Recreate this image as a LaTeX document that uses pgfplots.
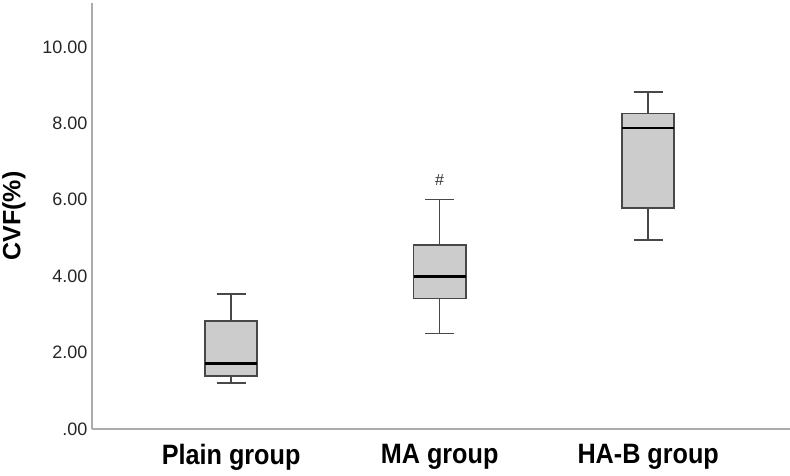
\documentclass[border=0pt]{standalone}
\usepackage{fontspec}
\setmainfont{Liberation Sans}
\usepackage{pgfplots}
\pgfplotsset{compat=1.18}
\usepgfplotslibrary{statistics}
\definecolor{axgray}{HTML}{ABABAB}
\definecolor{boxfill}{HTML}{CCCCCC}
\definecolor{boxline}{HTML}{484848}
\begin{document}
\begin{tikzpicture}[line width=1.6pt]
\useasboundingbox (0,0) rectangle (790pt,476pt);
\begin{axis}[
  at={(92pt,47pt)}, anchor=south west,
  scale only axis, width=698pt, height=426pt,
  xmin=0.333, xmax=3.68, ymin=0, ymax=11.15,
  axis x line=bottom, axis y line=left,
  axis line style={axgray, line width=1.8pt, -},
  xtick={1,2,3},
  xticklabels={\scalebox{0.9}[1]{Plain group}, \scalebox{0.9}[1]{MA group}, \scalebox{0.9}[1]{HA-B group}},
  ytick={0,2,4,6,8,10},
  yticklabels={.00,2.00,4.00,6.00,8.00,10.00},
  major tick length=0pt,
  xticklabel style={font=\fontsize{28}{30}\selectfont\bfseries, yshift=-12pt},
  yticklabel style={font=\fontsize{18}{20}\selectfont, text=black!85, xshift=-1pt},
  /pgf/number format/assume math mode=true,
  ylabel={\fontsize{25}{28}\selectfont\bfseries CVF(\%)},
  ylabel style={at={(axis description cs:-0.112,0.5)}, anchor=center},
  every axis plot/.append style={line width=1.6pt},
  boxplot/draw direction=y,
  boxplot/box extend=0.25,
  boxplot/whisker extend=0.14,
  boxplot/every median/.style={line width=2.6pt, black},
  boxplot/every whisker/.style={line width=1.6pt, boxline},
  boxplot/every box/.style={line width=1.6pt, draw=boxline, fill=boxfill},
  clip=false,
]
\addplot[boxplot prepared={median=1.72, upper quartile=2.83, lower quartile=1.39,
  upper whisker=3.53, lower whisker=1.21, draw position=1},
  draw=boxline, fill=boxfill, line width=1.6pt] coordinates {};
\addplot[boxplot prepared={median=3.99, upper quartile=4.82, lower quartile=3.42,
  upper whisker=6.01, lower whisker=2.50, draw position=2},
  draw=boxline, fill=boxfill, line width=1.6pt] coordinates {};
\addplot[boxplot prepared={median=7.88, upper quartile=8.26, lower quartile=5.79,
  upper whisker=8.82, lower whisker=4.94, draw position=3},
  draw=boxline, fill=boxfill, line width=1.6pt] coordinates {};
\node[font=\fontsize{16}{18}\selectfont, text=black!80] at (axis cs:2,6.52) {\#};
\end{axis}
\end{tikzpicture}
\end{document}
